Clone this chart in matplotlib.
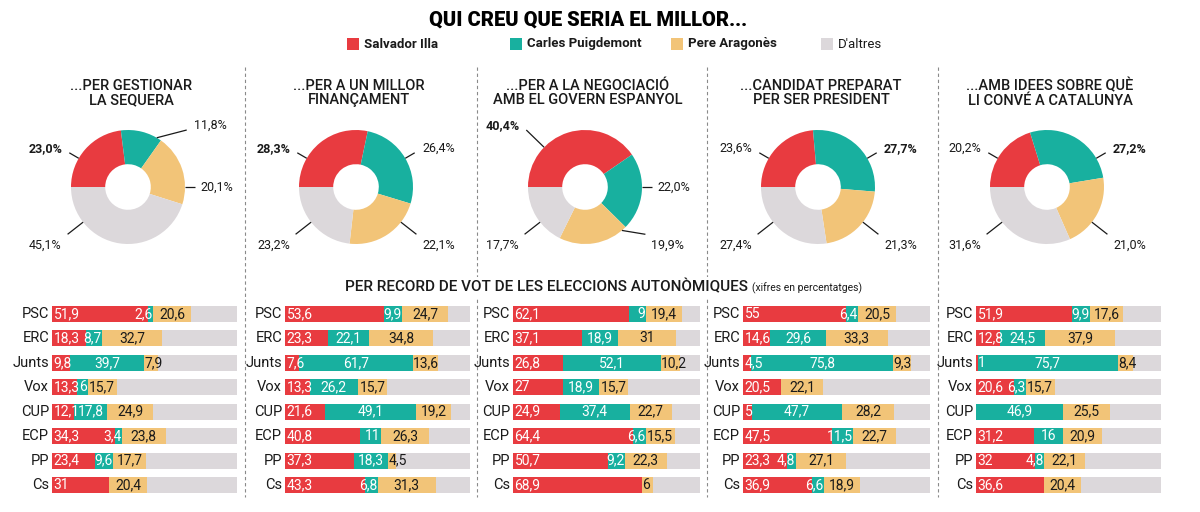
import matplotlib
matplotlib.use('Agg')
import matplotlib.pyplot as plt
from matplotlib.lines import Line2D
from matplotlib.patches import Rectangle
import numpy as np

plt.rcParams['font.family'] = ['Roboto', 'DejaVu Sans']

# ---------------- data ----------------
title = "QUI CREU QUE SERIA EL MILLOR..."
candidates = ["Salvador Illa", "Carles Puigdemont", "Pere Aragonès", "D'altres"]
questions = ["...PER GESTIONAR\nLA SEQUERA",
             "...PER A UN MILLOR\nFINANÇAMENT",
             "...PER A LA NEGOCIACIÓ\nAMB EL GOVERN ESPANYOL",
             "...CANDIDAT PREPARAT\nPER SER PRESIDENT",
             "...AMB IDEES SOBRE QUÈ\nLI CONVÉ A CATALUNYA"]
illa_pct = [23.0, 28.3, 40.4, 23.6, 20.2]
puig_pct = [11.8, 26.4, 22.0, 27.7, 27.2]
arag_pct = [20.1, 22.1, 19.9, 21.3, 21.0]
altres_pct = [45.1, 23.2, 17.7, 27.4, 31.6]

header = "PER RECORD DE VOT DE LES ELECCIONS AUTONÒMIQUES"
header_note = "(xifres en percentatges)"
parties = ["PSC", "ERC", "Junts", "Vox", "CUP", "ECP", "PP", "Cs"]
illa_by_party = [
    [51.9, 18.3, 9.8, 13.3, 12.1, 34.3, 23.4, 31.0],
    [53.6, 23.3, 7.6, 13.3, 21.6, 40.8, 37.3, 43.3],
    [62.1, 37.1, 26.8, 27.0, 24.9, 64.4, 50.7, 68.9],
    [55.0, 14.6, 4.5, 20.5, 5.0, 47.5, 23.3, 36.9],
    [51.9, 12.8, 1.0, 20.6, 0.0, 31.2, 32.0, 36.6],
]
puig_by_party = [
    [2.6, 8.7, 39.7, 6.0, 17.8, 3.4, 9.6, 0.0],
    [9.9, 22.1, 61.7, 26.2, 49.1, 11.0, 18.3, 6.8],
    [9.0, 18.9, 52.1, 18.9, 37.4, 6.6, 9.2, 0.0],
    [6.4, 29.6, 75.8, 0.0, 47.7, 11.5, 4.8, 6.6],
    [9.9, 24.5, 75.7, 6.3, 46.9, 16.0, 4.8, 0.0],
]
arag_by_party = [
    [20.6, 32.7, 7.9, 15.7, 24.9, 23.8, 17.7, 20.4],
    [24.7, 34.8, 13.6, 15.7, 19.2, 26.3, 4.5, 31.3],
    [19.4, 31.0, 10.2, 15.7, 22.7, 15.5, 22.3, 6.0],
    [20.5, 33.3, 9.3, 22.1, 28.2, 22.7, 27.1, 18.9],
    [17.6, 37.9, 8.4, 15.7, 25.5, 20.9, 22.1, 20.4],
]

# ---------------- style / layout ----------------
RED, TEAL, YEL, GREY = '#E83B40', '#18B09F', '#F2C478', '#DCD8DB'
colors = [RED, TEAL, YEL, GREY]
DARK = '#1a1a1a'
W, H = 1200, 512
fig = plt.figure(figsize=(W / 100, H / 100), dpi=100)


def fx(x):
    return x / W


def fy(y):
    return 1 - y / H


def add_ax(x0, y0, x1, y1):
    return fig.add_axes([fx(x0), fy(y1), (x1 - x0) / W, (y1 - y0) / H])


def fmt(v):
    if abs(v - round(v)) < 1e-9:
        return str(int(round(v)))
    return f"{v:.1f}".replace('.', ',')


def fmt1(v):
    return f"{v:.1f}".replace('.', ',') + '%'


# title
fig.text(fx(588), fy(20), title, ha='center', va='center', fontsize=14.5,
         fontweight='black', color='black')

# legend
leg_x = [347, 510, 671, 821]
for i, (lab, col) in enumerate(zip(candidates, colors)):
    fig.add_artist(Rectangle((fx(leg_x[i]), fy(50)), 12 / W, 12 / H,
                             transform=fig.transFigure, facecolor=col,
                             edgecolor='none'))
    fig.text(fx(leg_x[i] + 17), fy(44), lab, ha='left', va='center',
             fontsize=9.5, fontweight='bold' if i < 3 else 'normal', color=DARK)

# dividers
for xd in [245, 477, 707, 938]:
    fig.add_artist(Line2D([fx(xd), fx(xd)], [fy(67), fy(497)],
                          transform=fig.transFigure, color='#8a8a8a',
                          lw=0.8, ls=(0, (3, 2.5))))

# donuts
donut_cx = [128, 356, 585, 818, 1047]
cy, R = 187, 57
axw, axh = 118, 82
for p in range(5):
    vals = [illa_pct[p], puig_pct[p], arag_pct[p], altres_pct[p]]
    cx = donut_cx[p]
    fig.text(fx(cx + 3), fy(93), questions[p], ha='center', va='center',
             fontsize=10.5, fontweight='medium', color=DARK, linespacing=1.0)
    ax = add_ax(cx - axw, cy - axh, cx + axw, cy + axh)
    ax.pie(vals, colors=colors, startangle=180, counterclock=False,
           radius=1, wedgeprops=dict(width=0.6, edgecolor='none'))
    ax.set_aspect('auto')
    ax.set_xlim(-axw / R, axw / R)
    ax.set_ylim(-axh / R, axh / R)
    ax.axis('off')
    best = int(np.argmax(vals[:3]))
    cum = 0.0
    for i, v in enumerate(vals):
        a0 = 180 - 3.6 * cum
        a1 = a0 - 3.6 * v
        cum += v
        mid = np.radians((a0 + a1) / 2)
        c, s = np.cos(mid), np.sin(mid)
        sg = 1 if c >= 0 else -1
        if abs(s) < 0.4:
            ly = 0.0
            lx = sg * 1.55
            pts = [(sg * 1.0, 0.0), (sg * 1.18, 0.0)]
        else:
            lx = sg * 1.45
            if s > 0:
                ly = 1.08 if s > 0.9 else 0.68
                end = (sg * 1.03, ly - 0.08)
            else:
                ly = -1.03
                end = (sg * 1.06, ly + 0.2)
            phi = np.degrees(np.arctan2(end[1], end[0]))
            phi = min(max(phi, a1 + 5), a0 - 5)
            st = (np.cos(np.radians(phi)), np.sin(np.radians(phi)))
            pts = [st, end]
        xs, ys = zip(*pts)
        ax.plot(xs, ys, color=DARK, lw=0.9, clip_on=False,
                solid_capstyle='butt')
        ax.text(lx, ly, fmt1(v), ha='center', va='center',
                fontsize=9, color=DARK,
                fontweight='bold' if i == best else 'normal', clip_on=False)

# header of bar section
t = fig.text(fx(345), fy(287), header, ha='left', va='center', fontsize=11,
             fontweight='medium', color=DARK,
             bbox=dict(facecolor='white', edgecolor='none', pad=1.5))
fig.canvas.draw()
bb = t.get_window_extent(renderer=fig.canvas.get_renderer())
fig.text(bb.x1 / W + 4 / W, fy(288), header_note, ha='left', va='center',
         fontsize=7.5, color=DARK,
         bbox=dict(facecolor='white', edgecolor='none', pad=1.5))

# bars
bar_x = [(52, 237), (285, 470), (513, 700), (743, 930), (976, 1161)]
y_top, y_bot = 301.8, 497.2
rows = np.arange(len(parties))
for p in range(5):
    x0, x1 = bar_x[p]
    ax = add_ax(x0, y_top, x1, y_bot)
    r = np.array(illa_by_party[p])
    t_ = np.array(puig_by_party[p])
    yv = np.array(arag_by_party[p])
    g = 100 - r - t_ - yv
    h = 0.66
    ax.barh(rows, r, height=h, color=RED, edgecolor='none')
    ax.barh(rows, t_, left=r, height=h, color=TEAL, edgecolor='none')
    ax.barh(rows, yv, left=r + t_, height=h, color=YEL, edgecolor='none')
    ax.barh(rows, g, left=r + t_ + yv, height=h, color=GREY, edgecolor='none')
    ax.set_xlim(0, 100)
    ax.set_ylim(len(parties) - 0.5, -0.5)
    ax.axis('off')
    for k in rows:
        ax.text(-1.6, k, parties[k], ha='right', va='center', fontsize=10.5,
                color=DARK, clip_on=False)
        fs = 10
        if r[k] > 0:
            ax.text(0.8, k, fmt(r[k]), ha='left', va='center', fontsize=fs,
                    color='white', clip_on=False)
        if t_[k] > 0:
            if t_[k] >= 14:
                ax.text(r[k] + t_[k] / 2, k, fmt(t_[k]), ha='center',
                        va='center', fontsize=fs, color='white')
            else:
                ax.text(r[k] + t_[k] - 0.3, k, fmt(t_[k]), ha='right',
                        va='center', fontsize=fs, color='white')
        if yv[k] > 0:
            st = r[k] + t_[k]
            if yv[k] >= 12:
                ax.text(st + yv[k] / 2, k, fmt(yv[k]), ha='center',
                        va='center', fontsize=fs, color=DARK)
            else:
                ax.text(st + 0.3, k, fmt(yv[k]), ha='left', va='center',
                        fontsize=fs, color=DARK)

fig.savefig('out.png', dpi=100, facecolor='white')
